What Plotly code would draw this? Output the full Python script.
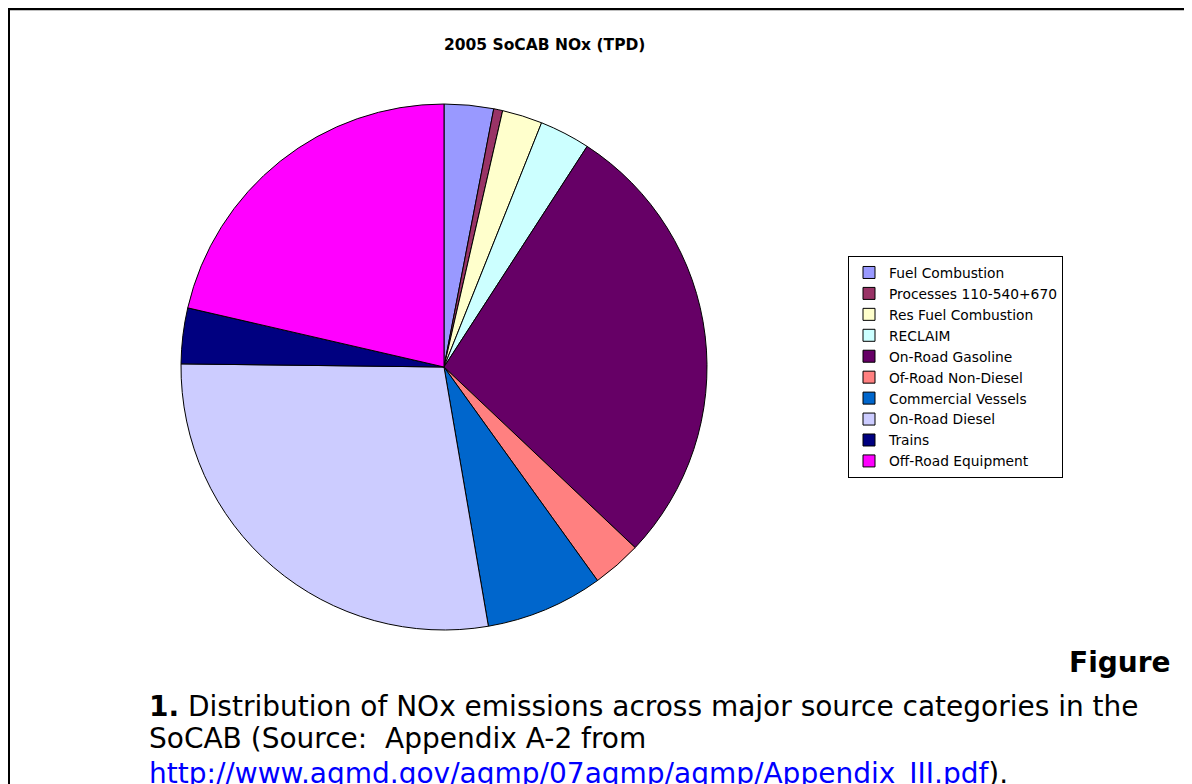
import plotly.graph_objects as go

categories = [
    "Fuel Combustion",
    "Processes 110-540+670",
    "Res Fuel Combustion",
    "RECLAIM",
    "On-Road Gasoline",
    "Of-Road Non-Diesel",
    "Commercial Vessels",
    "On-Road Diesel",
    "Trains",
    "Off-Road Equipment",
]
nox_tpd = [30.3, 5.5, 24.7, 31.1, 278.9, 30.3, 72.2, 278.9, 34.2, 213.9]
colors = ["#9999FF", "#993366", "#FFFFCC", "#CCFFFF", "#660066",
          "#FF8080", "#0066CC", "#CCCCFF", "#000080", "#FF00FF"]

W, H = 1192, 784
OFF = 8  # page body margin
FONT = "DejaVu Sans, Liberation Sans, Arial, sans-serif"


def px_x(x):
    return (x - OFF) / W


def px_y(y):
    return 1 - (y - OFF) / H


cx, cy, r = 444, 367, 263

fig = go.Figure()
fig.add_trace(go.Pie(
    labels=categories,
    values=nox_tpd,
    sort=False,
    direction="clockwise",
    rotation=0,
    textinfo="none",
    hoverinfo="label+value+percent",
    marker=dict(colors=colors, line=dict(color="black", width=1)),
    domain=dict(x=[px_x(cx - r), px_x(cx + r)],
                y=[px_y(cy + r), px_y(cy - r)]),
))

shapes = [
    dict(type="line", xref="paper", yref="paper",
         x0=1 / W, x1=1 / W, y0=1, y1=-0.05,
         line=dict(color="black", width=2)),
    dict(type="line", xref="paper", yref="paper",
         x0=0, x1=1.05, y0=1 - 1 / H, y1=1 - 1 / H,
         line=dict(color="black", width=2.5)),
]

cap_font = dict(family=FONT, size=28, color="black")
annotations = [
    dict(text="<b>2005 SoCAB NOx (TPD)</b>", xref="paper", yref="paper",
         x=px_x(544), y=px_y(45), xanchor="center", yanchor="middle",
         showarrow=False,
         font=dict(family=FONT, size=15.5, color="black")),
    dict(text="<b>Figure</b>", xref="paper", yref="paper",
         x=px_x(1173), y=px_y(662), xanchor="right", yanchor="middle",
         showarrow=False, font=cap_font),
    dict(text="<b>1.</b> Distribution of NOx emissions across major source categories in the",
         xref="paper", yref="paper", x=px_x(147), y=px_y(706),
         xanchor="left", yanchor="middle", showarrow=False, font=cap_font),
    dict(text="SoCAB (Source:&nbsp; Appendix A-2 from",
         xref="paper", yref="paper", x=px_x(147), y=px_y(738),
         xanchor="left", yanchor="middle", showarrow=False, font=cap_font),
    dict(text='<span style="color:#0000FF"><u>http://www.aqmd.gov/aqmp/07aqmp/aqmp/Appendix_III.pdf</u></span>).',
         xref="paper", yref="paper", x=px_x(147), y=px_y(773),
         xanchor="left", yanchor="middle", showarrow=False, font=cap_font),
]

fig.update_layout(
    width=W, height=H,
    margin=dict(l=0, r=0, t=0, b=0),
    paper_bgcolor="white",
    plot_bgcolor="white",
    showlegend=True,
    legend=dict(
        x=px_x(848), y=px_y(256), xanchor="left", yanchor="top",
        bordercolor="black", borderwidth=1, bgcolor="white",
        font=dict(family=FONT, size=13.8, color="black"),
        traceorder="normal",
    ),
    shapes=shapes,
    annotations=annotations,
)

fig.write_html("out.html")
